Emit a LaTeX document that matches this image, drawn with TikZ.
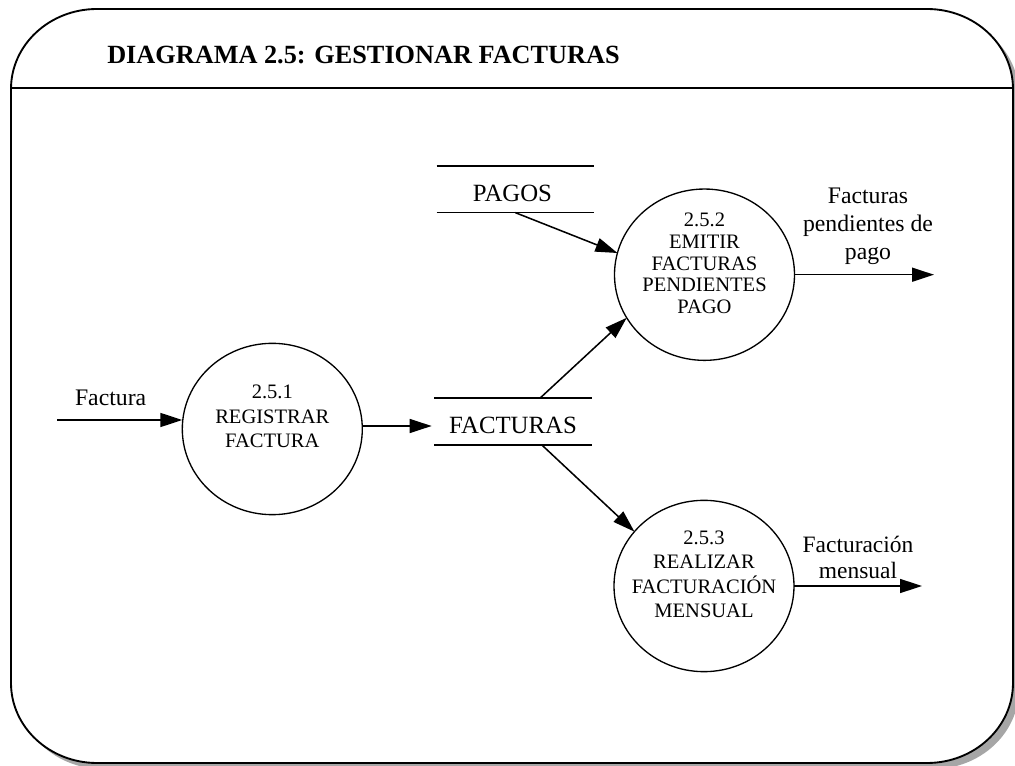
\documentclass[tikz,border=0pt]{standalone}
\usepackage{fontspec}
\setmainfont{Liberation Serif}
\usetikzlibrary{arrows.meta,shapes.geometric,calc}
\begin{document}
\begin{tikzpicture}[x=0.75pt,y=-0.75pt,
  conn/.style={line width=1.15pt,-{Triangle[length=16.5pt,width=10.5pt]}},
  proc/.style={ellipse,draw,line width=1pt,minimum width=135pt,minimum height=128.5pt,inner sep=0pt,outer sep=0pt},
  proctext/.style={align=center,inner sep=0pt,font=\fontsize{15.4pt}{18.4pt}\selectfont},
  storebox/.style={rectangle,minimum width=118pt,minimum height=35pt,inner sep=0pt,outer sep=0pt},
  storeline/.style={line width=1.1pt},
  storetext/.style={inner sep=0pt,font=\fontsize{18.6pt}{22pt}\selectfont},
  lbl/.style={align=center,inner sep=0pt,font=\fontsize{17.8pt}{21pt}\selectfont},
]
\useasboundingbox (0,0) rectangle (1015,766);
\clip (0,0) rectangle (1015,766);
% frame shadow and frame
\fill[gray!70,shift={(6,6)}] (11,89) .. controls (11,44.8) and (49.5,9) .. (97,9) -- (927,9) .. controls (974.5,9) and (1013,44.8) .. (1013,89) -- (1013,683) .. controls (1013,727.2) and (974.5,763) .. (927,763) -- (97,763) .. controls (49.5,763) and (11,727.2) .. (11,683) -- cycle;
\draw[line width=1.4pt,fill=white] (11,89) .. controls (11,44.8) and (49.5,9) .. (97,9) -- (927,9) .. controls (974.5,9) and (1013,44.8) .. (1013,89) -- (1013,683) .. controls (1013,727.2) and (974.5,763) .. (927,763) -- (97,763) .. controls (49.5,763) and (11,727.2) .. (11,683) -- cycle;
\draw[line width=1.2pt] (11,88) -- (1013,88);
\node[anchor=base west,inner sep=0pt,font=\bfseries\fontsize{19.7pt}{23pt}\selectfont] (title) at (107,64) {DIAGRAMA 2.5: GESTIONAR FACTURAS};

% processes
\node[proc] (p1) at (272.3,429) {};
\node[proctext] (p1t) at (272.3,416.5) {2.5.1\\REGISTRAR\\FACTURA};
\node[proc] (p2) at (704.5,274.7) {};
\node[proctext,font=\fontsize{15.4pt}{16.3pt}\selectfont] (p2t) at (704.5,263.5) {2.5.2\\EMITIR\\FACTURAS\\PENDIENTES\\PAGO};
\node[proc] (p3) at (704,586) {};
\node[proctext] (p3t) at (704,574.3) {2.5.3\\REALIZAR\\FACTURACIÓN\\MENSUAL};

% data stores
\node[storebox] (s1) at (515.3,189.3) {};
\draw[storeline] (s1.north west) -- (s1.north east) (s1.south west) -- (s1.south east);
\node[storetext,anchor=base] (s1t) at (512.5,202) {PAGOS};
\node[storebox] (s2) at (513,421.5) {};
\draw[storeline] (s2.north west) -- (s2.north east) (s2.south west) -- (s2.south east);
\node[storetext,anchor=base] (s2t) at (513,433.5) {FACTURAS};

% flows
\coordinate (in1) at (57,420);
\node[lbl,anchor=base] (l1) at (110.6,406) {Factura};
\draw[conn] (in1) -- (in1 -| p1.west);
\coordinate (p1o) at ($(p1.east)+(0,-3)$);
\draw[conn,shorten >=2pt] (p1o) -- (p1o -| s2.west);
\draw[conn] ($(s2.north)+(27,0)$) -- (p2.209);
\draw[conn] ($(s2.south)+(28.7,0)$) -- (p3.142);
\draw[conn] (s1.south) -- (p2.166);
\coordinate (o2) at (934,274.7);
\draw[conn] (p2.east) -- (o2);
\node[lbl,anchor=north] (l2) at (868,187.5) {Facturas\\pendientes de\\pago};
\coordinate (o3) at (922,586);
\draw[conn] (p3.east) -- (o3);
\node[lbl,anchor=north,font=\fontsize{17.6pt}{19.5pt}\selectfont] (l3) at (858,536) {Facturación\\mensual};
\end{tikzpicture}
\end{document}
